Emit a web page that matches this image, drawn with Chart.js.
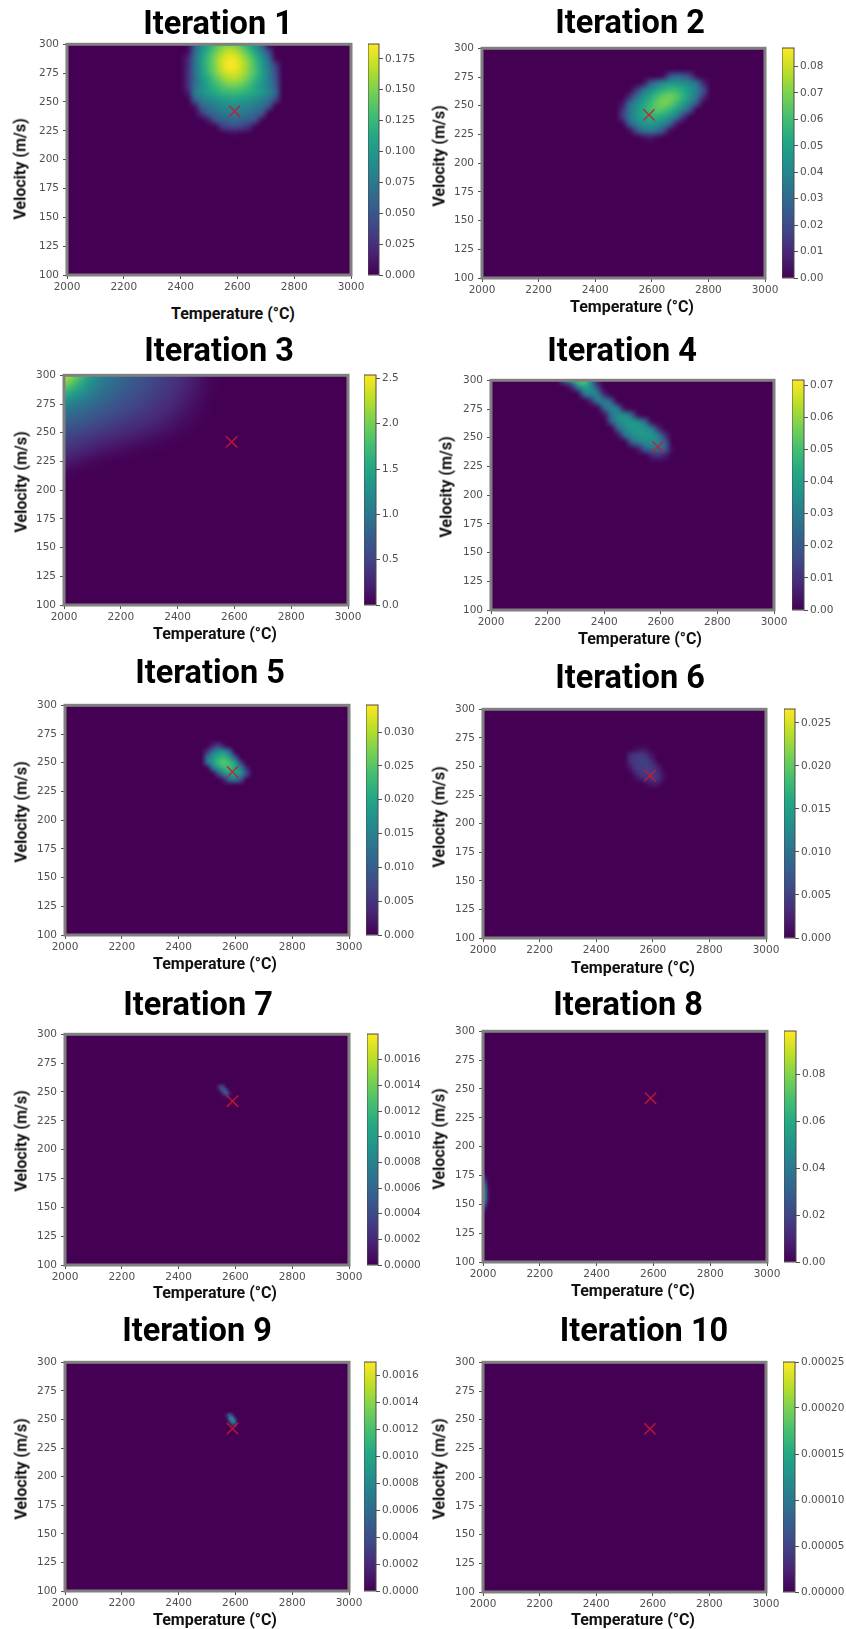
<!DOCTYPE html>
<html>
<head>
<meta charset="utf-8">
<title>Iterations</title>
<script src="https://cdn.jsdelivr.net/npm/chart.js@4/dist/chart.umd.min.js"></script>
<style>
  html, body { margin: 0; padding: 0; background: #fff; }
  #page { position: relative; width: 846px; height: 1629px; overflow: hidden; }
  #page canvas { position: absolute; }
  .title { position: absolute; font: 700 32.5px Roboto, sans-serif; color: #000; white-space: nowrap; transform: translateX(-50%); line-height: 40px; }
  .xlabel { position: absolute; font: 700 16px Roboto, sans-serif; color: #111; white-space: nowrap; transform: translate(-50%, -50%); }
  .ylabel { position: absolute; font: 700 16px Roboto, sans-serif; color: #111; white-space: nowrap; transform: translate(-50%, -50%) rotate(-90deg); }
</style>
</head>
<body>
<div id="page"></div>
<script>
'use strict';

const titles = ['Iteration 1', 'Iteration 2', 'Iteration 3', 'Iteration 4', 'Iteration 5',
  'Iteration 6', 'Iteration 7', 'Iteration 8', 'Iteration 9', 'Iteration 10'];
const xAxisTitle = 'Temperature (°C)';
const yAxisTitle = 'Velocity (m/s)';

const xTicks = [2000, 2200, 2400, 2600, 2800, 3000];
const yTicks = [100, 125, 150, 175, 200, 225, 250, 275, 300];

// the red cross, same spot in every panel
const truthPoint = { x: 2590, y: 242 };

// colorbar tops and tick labels
const colorbarMax = [0.187, 0.087, 2.537, 0.0716, 0.034, 0.0266, 0.0018, 0.0983, 0.0017, 0.00025];
const cbTicks1 = ['0.000', '0.025', '0.050', '0.075', '0.100', '0.125', '0.150', '0.175'];
const cbTicks2 = ['0.00', '0.01', '0.02', '0.03', '0.04', '0.05', '0.06', '0.07', '0.08'];
const cbTicks3 = ['0.0', '0.5', '1.0', '1.5', '2.0', '2.5'];
const cbTicks4 = ['0.00', '0.01', '0.02', '0.03', '0.04', '0.05', '0.06', '0.07'];
const cbTicks5 = ['0.000', '0.005', '0.010', '0.015', '0.020', '0.025', '0.030'];
const cbTicks6 = ['0.000', '0.005', '0.010', '0.015', '0.020', '0.025'];
const cbTicks7 = ['0.0000', '0.0002', '0.0004', '0.0006', '0.0008', '0.0010', '0.0012', '0.0014', '0.0016'];
const cbTicks8 = ['0.00', '0.02', '0.04', '0.06', '0.08'];
const cbTicks9 = ['0.0000', '0.0002', '0.0004', '0.0006', '0.0008', '0.0010', '0.0012', '0.0014', '0.0016'];
const cbTicks10 = ['0.00000', '0.00005', '0.00010', '0.00015', '0.00020', '0.00025'];
const cbTicks = [cbTicks1, cbTicks2, cbTicks3, cbTicks4, cbTicks5, cbTicks6, cbTicks7, cbTicks8, cbTicks9, cbTicks10];

// heat values, only around the blobs, everything else is 0
const iter1Temps = [2400, 2424, 2448, 2472, 2496, 2520, 2544, 2568, 2592, 2616, 2640, 2664, 2688, 2712, 2736, 2760];
const iter1Vels = [306, 300, 294, 288, 282, 276, 270, 264, 258, 252, 246, 240, 234, 228, 222, 216];
const iter1Heat = [
  [0, 0, .022, .062, .09, .109, .124, .13, .125, .112, .092, .069, .034, 0, 0, 0],
  [0, .003, .05, .084, .107, .128, .143, .15, .146, .132, .113, .089, .054, 0, 0, 0],
  [0, .004, .056, .092, .118, .14, .159, .17, .166, .151, .13, .105, .075, .036, 0, 0],
  [0, .018, .065, .1, .127, .151, .17, .182, .18, .166, .146, .122, .094, .057, .004, 0],
  [0, .02, .066, .1, .128, .15, .172, .186, .184, .171, .152, .128, .1, .07, .03, 0],
  [0, .022, .066, .098, .124, .146, .166, .178, .178, .167, .15, .13, .105, .076, .04, 0],
  [0, .022, .062, .092, .114, .135, .151, .163, .164, .156, .141, .122, .1, .076, .044, 0],
  [0, .024, .066, .09, .108, .122, .135, .144, .145, .139, .127, .112, .097, .078, .05, 0],
  [0, .012, .071, .091, .103, .112, .12, .124, .125, .121, .116, .109, .098, .083, .056, 0],
  [0, 0, .052, .073, .085, .093, .1, .104, .105, .102, .097, .09, .08, .066, .035, 0],
  [0, 0, .009, .054, .068, .077, .084, .088, .09, .087, .082, .074, .065, .045, 0, 0],
  [0, 0, 0, .026, .052, .064, .072, .076, .078, .075, .069, .061, .047, 0, 0, 0],
  [0, 0, 0, 0, .012, .043, .054, .06, .062, .059, .052, .041, .003, 0, 0, 0],
  [0, 0, 0, 0, 0, 0, .025, .035, .038, .033, .022, 0, 0, 0, 0, 0],
  [0, 0, 0, 0, 0, 0, 0, .002, .004, .001, 0, 0, 0, 0, 0, 0],
  [0, 0, 0, 0, 0, 0, 0, 0, 0, 0, 0, 0, 0, 0, 0, 0]
];

const iter2Temps = [2472, 2496, 2520, 2544, 2568, 2592, 2616, 2640, 2664, 2688, 2712, 2736, 2760, 2784, 2808];
const iter2Vels = [282, 276, 270, 264, 258, 252, 246, 240, 234, 228, 222, 216];
const iter2Heat = [
  [0, 0, 0, 0, 0, 0, 0, 0, 0, 0, 0, 0, 0, 0, 0],
  [0, 0, 0, 0, 0, 0, 0, .003, .02, .026, .024, .016, .002, 0, 0],
  [0, 0, 0, 0, .003, .02, .032, .04, .044, .044, .042, .038, .03, .008, 0],
  [0, 0, 0, .012, .03, .04, .048, .054, .058, .057, .052, .045, .036, .02, 0],
  [0, 0, .01, .03, .042, .051, .06, .066, .068, .064, .055, .045, .032, .012, 0],
  [0, .005, .028, .04, .049, .057, .065, .069, .066, .058, .048, .037, .02, .001, 0],
  [0, .012, .032, .043, .052, .059, .064, .062, .056, .047, .036, .02, 0, 0, 0],
  [0, .014, .033, .043, .05, .054, .054, .05, .043, .033, .012, 0, 0, 0, 0],
  [0, .001, .024, .037, .044, .046, .044, .038, .028, .006, 0, 0, 0, 0, 0],
  [0, 0, .002, .018, .031, .034, .031, .02, .003, 0, 0, 0, 0, 0, 0],
  [0, 0, 0, 0, .003, .006, .003, 0, 0, 0, 0, 0, 0, 0, 0],
  [0, 0, 0, 0, 0, 0, 0, 0, 0, 0, 0, 0, 0, 0, 0]
];

const iter3Temps = [1975, 2025, 2075, 2125, 2175, 2225, 2275, 2325, 2375, 2425, 2475, 2525];
const iter3Vels = [305, 295, 285, 275, 265, 255, 245, 235, 225, 215, 205];
const iter3Heat = [
  [2.6, 2.3, 1.7, 1.2, .95, .8, .65, .52, .42, .3, .16, .02],
  [2.35, 1.95, 1.45, 1.1, .9, .75, .62, .5, .4, .28, .14, .015],
  [1.8, 1.5, 1.2, .95, .8, .68, .56, .45, .36, .24, .11, .005],
  [1.3, 1.1, .95, .8, .68, .58, .48, .38, .29, .18, .07, 0],
  [1.0, .85, .75, .65, .55, .46, .38, .3, .21, .11, .03, 0],
  [.75, .65, .58, .48, .4, .33, .27, .2, .12, .05, .005, 0],
  [.55, .47, .4, .32, .26, .2, .14, .08, .03, .005, 0, 0],
  [.4, .33, .25, .17, .11, .06, .025, .005, 0, 0, 0, 0],
  [.25, .17, .09, .03, .005, 0, 0, 0, 0, 0, 0, 0],
  [.1, .03, .002, 0, 0, 0, 0, 0, 0, 0, 0, 0],
  [0, 0, 0, 0, 0, 0, 0, 0, 0, 0, 0, 0]
];

const iter4Temps = [2208, 2232, 2256, 2280, 2304, 2328, 2352, 2376, 2400, 2424, 2448, 2472, 2496, 2520, 2544, 2568, 2592, 2616, 2640, 2664];
const iter4Vels = [306, 300, 294, 288, 282, 276, 270, 264, 258, 252, 246, 240, 234, 228];
const iter4Heat = [
  [.008, .02, .033, .045, .056, .06, .042, .012, 0, 0, 0, 0, 0, 0, 0, 0, 0, 0, 0, 0],
  [0, 0, .02, .035, .05, .055, .035, .005, 0, 0, 0, 0, 0, 0, 0, 0, 0, 0, 0, 0],
  [0, 0, 0, .005, .026, .04, .036, .016, 0, 0, 0, 0, 0, 0, 0, 0, 0, 0, 0, 0],
  [0, 0, 0, 0, 0, .024, .032, .03, .008, 0, 0, 0, 0, 0, 0, 0, 0, 0, 0, 0],
  [0, 0, 0, 0, 0, 0, .008, .028, .03, .02, 0, 0, 0, 0, 0, 0, 0, 0, 0, 0],
  [0, 0, 0, 0, 0, 0, 0, .002, .024, .032, .026, .002, 0, 0, 0, 0, 0, 0, 0, 0],
  [0, 0, 0, 0, 0, 0, 0, 0, .004, .026, .034, .034, .022, .002, 0, 0, 0, 0, 0, 0],
  [0, 0, 0, 0, 0, 0, 0, 0, 0, .02, .032, .037, .038, .034, .024, .002, 0, 0, 0, 0],
  [0, 0, 0, 0, 0, 0, 0, 0, 0, 0, .022, .033, .037, .038, .036, .03, .008, 0, 0, 0],
  [0, 0, 0, 0, 0, 0, 0, 0, 0, 0, .003, .024, .033, .037, .038, .036, .03, .01, 0, 0],
  [0, 0, 0, 0, 0, 0, 0, 0, 0, 0, 0, 0, .02, .028, .033, .034, .031, .021, 0, 0],
  [0, 0, 0, 0, 0, 0, 0, 0, 0, 0, 0, 0, 0, .005, .02, .025, .026, .02, .002, 0],
  [0, 0, 0, 0, 0, 0, 0, 0, 0, 0, 0, 0, 0, 0, 0, .006, .009, .005, 0, 0],
  [0, 0, 0, 0, 0, 0, 0, 0, 0, 0, 0, 0, 0, 0, 0, 0, 0, 0, 0, 0]
];

const iter5Temps = [2480, 2500, 2520, 2540, 2560, 2580, 2600, 2620, 2640, 2660];
const iter5Vels = [270, 265, 260, 255, 250, 245, 240, 235, 230];
const iter5Heat = [
  [0, 0, 0, 0, 0, 0, 0, 0, 0, 0],
  [0, 0, .003, .006, .002, 0, 0, 0, 0, 0],
  [0, .004, .012, .016, .016, .01, 0, 0, 0, 0],
  [0, .011, .017, .021, .022, .018, .008, 0, 0, 0],
  [0, .011, .018, .023, .025, .023, .018, .006, 0, 0],
  [0, 0, .011, .018, .022, .023, .02, .015, .004, 0],
  [0, 0, 0, .007, .015, .019, .019, .016, .007, 0],
  [0, 0, 0, 0, .003, .011, .012, .007, 0, 0],
  [0, 0, 0, 0, 0, 0, 0, 0, 0, 0]
];

const iter6Temps = [2500, 2520, 2540, 2560, 2580, 2600, 2620, 2640, 2660];
const iter6Vels = [270, 265, 260, 255, 250, 245, 240, 235, 230];
const iter6Heat = [
  [0, 0, 0, 0, 0, 0, 0, 0, 0],
  [0, 0, .001, .0015, .001, 0, 0, 0, 0],
  [0, .003, .004, .0045, .003, .001, 0, 0, 0],
  [0, .0035, .0045, .005, .0045, .0025, 0, 0, 0],
  [0, .002, .0045, .0045, .005, .004, .002, 0, 0],
  [0, .0005, .003, .0045, .0045, .0045, .003, .0005, 0],
  [0, 0, .001, .003, .004, .0045, .0035, .001, 0],
  [0, 0, 0, 0, .001, .002, .0015, 0, 0],
  [0, 0, 0, 0, 0, 0, 0, 0, 0]
];

const iter7Temps = [2530, 2540, 2550, 2560, 2570, 2580, 2590];
const iter7Vels = [258, 255, 252, 249, 246, 243];
const iter7Heat = [
  [0, 0, 0, 0, 0, 0, 0],
  [0, .00015, .00035, .0002, 0, 0, 0],
  [0, .0001, .0004, .0005, .00025, 0, 0],
  [0, 0, .0001, .0004, .0005, .00015, 0],
  [0, 0, 0, .00005, .00015, .00005, 0],
  [0, 0, 0, 0, 0, 0, 0]
];

const iter8Temps = [1990, 2000, 2010, 2020];
const iter8Vels = [180, 175, 170, 165, 160, 155, 150, 145, 140];
const iter8Heat = [
  [0, 0, 0, 0],
  [.015, .012, .002, 0],
  [.04, .035, .015, 0],
  [.055, .05, .03, .002],
  [.06, .055, .035, .004],
  [.06, .055, .035, .004],
  [.05, .04, .02, 0],
  [.02, .015, .003, 0],
  [0, 0, 0, 0]
];

const iter9Temps = [2560, 2570, 2580, 2590, 2600, 2610];
const iter9Vels = [257, 254, 251, 248, 245, 242];
const iter9Heat = [
  [0, 0, 0, 0, 0, 0],
  [0, .0002, .0005, .0002, 0, 0],
  [0, .0001, .0007, .0008, .0002, 0],
  [0, 0, .0003, .0008, .0005, 0],
  [0, 0, 0, .0002, .0002, 0],
  [0, 0, 0, 0, 0, 0]
];

// iteration 10 is flat, nothing to draw
const iter10Temps = [];
const iter10Vels = [];
const iter10Heat = [];

const heatTemps = [iter1Temps, iter2Temps, iter3Temps, iter4Temps, iter5Temps, iter6Temps, iter7Temps, iter8Temps, iter9Temps, iter10Temps];
const heatVels = [iter1Vels, iter2Vels, iter3Vels, iter4Vels, iter5Vels, iter6Vels, iter7Vels, iter8Vels, iter9Vels, iter10Vels];
const heatGrids = [iter1Heat, iter2Heat, iter3Heat, iter4Heat, iter5Heat, iter6Heat, iter7Heat, iter8Heat, iter9Heat, iter10Heat];

// panel geometry, the panels are not on a regular grid
// plot left/right/top/bottom, colorbar left/right, title centre + top, xlabel centre, ylabel centre
const panelBoxes = [
  { l: 67, r: 351, t: 44, b: 275, cl: 368, cr: 379, tx: 218, ty: 3, xx: 233, xy: 313, yx: 20, yy: 169 },
  { l: 482, r: 765, t: 48, b: 278, cl: 782, cr: 794, tx: 630, ty: 2, xx: 632, xy: 306, yx: 439, yy: 156 },
  { l: 64, r: 348, t: 375, b: 605, cl: 364, cr: 376, tx: 219, ty: 330, xx: 215, xy: 633, yx: 21, yy: 482 },
  { l: 491, r: 774, t: 380, b: 610, cl: 792, cr: 804, tx: 622, ty: 330, xx: 640, xy: 638, yx: 446, yy: 487 },
  { l: 65, r: 349, t: 705, b: 935, cl: 366, cr: 378, tx: 210, ty: 652, xx: 215, xy: 963, yx: 21, yy: 812 },
  { l: 483, r: 766, t: 709, b: 938, cl: 784, cr: 795, tx: 630, ty: 657, xx: 633, xy: 967, yx: 439, yy: 817 },
  { l: 65, r: 349, t: 1034, b: 1265, cl: 367, cr: 378, tx: 198, ty: 984, xx: 215, xy: 1292, yx: 21, yy: 1141 },
  { l: 483, r: 767, t: 1031, b: 1262, cl: 784, cr: 796, tx: 628, ty: 984, xx: 633, xy: 1290, yx: 439, yy: 1139 },
  { l: 65, r: 349, t: 1362, b: 1591, cl: 364, cr: 376, tx: 197, ty: 1310, xx: 215, xy: 1619, yx: 21, yy: 1469 },
  { l: 483, r: 766, t: 1362, b: 1592, cl: 783, cr: 795, tx: 644, ty: 1310, xx: 633, xy: 1619, yx: 439, yy: 1469 }
];

const viridisStops = ['#440154', '#482475', '#414487', '#355f8d', '#2a788e', '#21918c', '#22a884', '#44bf70', '#7ad151', '#bddf26', '#fde725'];
const tickFont = { family: '"DejaVu Sans"', size: 10.5 };
const tickColor = '#505050';

function hexToRgb(hex) {
  return [1, 3, 5].map(i => parseInt(hex.slice(i, i + 2), 16));
}

// value 0..1 to viridis rgb
function viridis(frac) {
  let pos = Math.min(Math.max(frac, 0), 1) * (viridisStops.length - 1);
  let i = Math.min(Math.floor(pos), viridisStops.length - 2);
  let a = hexToRgb(viridisStops[i]);
  let b = hexToRgb(viridisStops[i + 1]);
  return a.map((c, k) => Math.round(c + (b[k] - c) * (pos - i)));
}

// paints the heat grid into the plot area through the chart scales, imshow style
function heatPlugin(index) {
  return {
    id: 'heat' + index,
    beforeDatasetsDraw(chart) {
      let ctx = chart.ctx;
      let area = chart.chartArea;
      let xs = chart.scales.x;
      let ys = chart.scales.y;
      ctx.save();
      ctx.beginPath();
      ctx.rect(area.left, area.top, area.width, area.height);
      ctx.clip();
      ctx.fillStyle = viridisStops[0];
      ctx.fillRect(area.left, area.top, area.width, area.height);

      let temps = heatTemps[index];
      let vels = heatVels[index];
      let grid = heatGrids[index];
      if (temps.length) {
        let off = document.createElement('canvas');
        off.width = temps.length;
        off.height = vels.length;
        let offCtx = off.getContext('2d');
        let img = offCtx.createImageData(temps.length, vels.length);
        for (let r = 0; r < vels.length; r++) {
          for (let c = 0; c < temps.length; c++) {
            let rgb = viridis(grid[r][c] / colorbarMax[index]);
            let p = (r * temps.length + c) * 4;
            img.data[p] = rgb[0];
            img.data[p + 1] = rgb[1];
            img.data[p + 2] = rgb[2];
            img.data[p + 3] = 255;
          }
        }
        offCtx.putImageData(img, 0, 0);
        let dt = temps[1] - temps[0];
        let dv = vels[0] - vels[1];
        let left = xs.getPixelForValue(temps[0] - dt / 2);
        let right = xs.getPixelForValue(temps[temps.length - 1] + dt / 2);
        let top = ys.getPixelForValue(vels[0] + dv / 2);
        let bottom = ys.getPixelForValue(vels[vels.length - 1] - dv / 2);
        ctx.imageSmoothingEnabled = true;
        ctx.imageSmoothingQuality = 'high';
        ctx.drawImage(off, left, top, right - left, bottom - top);
      }
      ctx.restore();
    }
  };
}

const framePlugin = {
  id: 'frame',
  afterDraw(chart) {
    let a = chart.chartArea;
    chart.ctx.save();
    chart.ctx.strokeStyle = '#808080';
    chart.ctx.lineWidth = 3;
    chart.ctx.strokeRect(a.left, a.top, a.width, a.height);
    chart.ctx.restore();
  }
};

const colorbarFrame = {
  id: 'cbFrame',
  afterDraw(chart) {
    let a = chart.chartArea;
    chart.ctx.save();
    chart.ctx.strokeStyle = '#4a4a4a';
    chart.ctx.lineWidth = 1;
    chart.ctx.strokeRect(a.left, a.top, a.width, a.height);
    chart.ctx.restore();
  }
};

function addCanvas(left, top, width, height) {
  let canvas = document.createElement('canvas');
  canvas.width = width;
  canvas.height = height;
  canvas.style.left = left + 'px';
  canvas.style.top = top + 'px';
  canvas.style.width = width + 'px';
  canvas.style.height = height + 'px';
  document.getElementById('page').appendChild(canvas);
  return canvas;
}

function addText(cls, text, left, top) {
  let el = document.createElement('div');
  el.className = cls;
  el.textContent = text;
  el.style.left = left + 'px';
  el.style.top = top + 'px';
  document.getElementById('page').appendChild(el);
}

function renderHeatmap(i) {
  let box = panelBoxes[i];
  let yWidth = 50;
  let xHeight = 26;
  let canvas = addCanvas(box.l - yWidth, box.t - 10, box.r - box.l + yWidth + 22, box.b - box.t + 10 + xHeight);
  new Chart(canvas, {
    type: 'scatter',
    data: {
      datasets: [{
        data: [truthPoint],
        pointStyle: 'crossRot',
        pointRadius: 8,
        pointBorderWidth: 1.5,
        pointBorderColor: 'rgba(205, 25, 50, 0.85)',
        pointBackgroundColor: 'rgba(0, 0, 0, 0)'
      }]
    },
    options: {
      responsive: false,
      animation: false,
      layout: { padding: { left: 0, top: 10, right: 22, bottom: 0 } },
      plugins: { legend: { display: false }, tooltip: { enabled: false } },
      scales: {
        x: {
          type: 'linear',
          min: 2000,
          max: 3000,
          afterBuildTicks: scale => { scale.ticks = xTicks.map(v => ({ value: v })); },
          afterFit: scale => { scale.height = xHeight; },
          grid: { drawOnChartArea: false, tickLength: 4, tickColor: '#505050' },
          border: { display: false },
          ticks: { autoSkip: false, maxRotation: 0, padding: 2, font: tickFont, color: tickColor, callback: v => String(v) }
        },
        y: {
          type: 'linear',
          min: 100,
          max: 300,
          afterBuildTicks: scale => { scale.ticks = yTicks.map(v => ({ value: v })); },
          afterFit: scale => { scale.width = yWidth; },
          grid: { drawOnChartArea: false, tickLength: 4, tickColor: '#505050' },
          border: { display: false },
          ticks: { autoSkip: false, padding: 4, font: tickFont, color: tickColor, callback: v => String(v) }
        }
      }
    },
    plugins: [heatPlugin(i), framePlugin]
  });
}

function renderColorbar(i) {
  let box = panelBoxes[i];
  let tickWidth = 56;
  let canvas = addCanvas(box.cl, box.t - 10, box.cr - box.cl + tickWidth, box.b - box.t + 20);
  let labels = cbTicks[i];
  new Chart(canvas, {
    type: 'bar',
    data: {
      labels: ['colorbar'],
      datasets: [{
        data: [colorbarMax[i]],
        barPercentage: 1,
        categoryPercentage: 1,
        backgroundColor(context) {
          let area = context.chart.chartArea;
          if (!area) {
            return viridisStops[0];
          }
          let gradient = context.chart.ctx.createLinearGradient(0, area.bottom, 0, area.top);
          viridisStops.forEach((color, k) => gradient.addColorStop(k / (viridisStops.length - 1), color));
          return gradient;
        }
      }]
    },
    options: {
      responsive: false,
      animation: false,
      layout: { padding: { left: 0, top: 10, right: 0, bottom: 10 } },
      plugins: { legend: { display: false }, tooltip: { enabled: false } },
      scales: {
        x: { display: false },
        y: {
          position: 'right',
          min: 0,
          max: colorbarMax[i],
          afterBuildTicks: scale => { scale.ticks = labels.map(v => ({ value: Number(v) })); },
          afterFit: scale => { scale.width = tickWidth; },
          grid: { drawOnChartArea: false, tickLength: 4, tickColor: '#505050' },
          border: { display: false },
          ticks: {
            autoSkip: false,
            padding: 2,
            font: tickFont,
            color: tickColor,
            callback: (v, idx) => labels[idx]
          }
        }
      }
    },
    plugins: [colorbarFrame]
  });
}

for (let i = 0; i < titles.length; i++) {
  let box = panelBoxes[i];
  renderHeatmap(i);
  renderColorbar(i);
  addText('title', titles[i], box.tx, box.ty);
  addText('xlabel', xAxisTitle, box.xx, box.xy);
  addText('ylabel', yAxisTitle, box.yx, box.yy);
}
</script>
</body>
</html>
